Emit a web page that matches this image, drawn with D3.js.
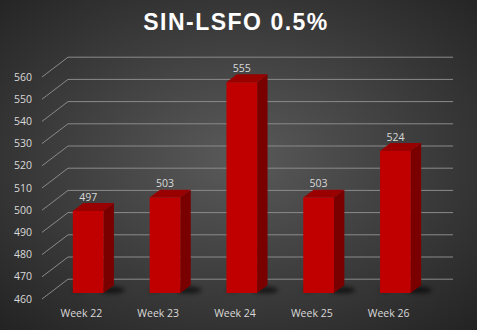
<!DOCTYPE html>
<html><head><meta charset="utf-8">
<script src="https://cdn.jsdelivr.net/npm/d3@7"></script>
<style>html,body{margin:0;padding:0;background:#333;}svg{display:block;}</style>
</head><body>
<script>
const categories = ["Week 22", "Week 23", "Week 24", "Week 25", "Week 26"];
const values = [497, 503, 555, 503, 524];
const yTicks = [460, 470, 480, 490, 500, 510, 520, 530, 540, 550, 560];
const title = "SIN-LSFO 0.5%";

const W = 477, H = 330;
const DX = 26, DY = 19.8;          // depth projection (full depth)
const T0 = 0.3, T1 = 0.7;          // bar depth range
const svg = d3.select("body").append("svg").attr("width", W).attr("height", H);
const defs = svg.append("defs");
const g = defs.append("radialGradient").attr("id", "bg").attr("cx", "50%").attr("cy", "48%").attr("r", "72%");
g.append("stop").attr("offset", "0%").attr("stop-color", "#5a5a5a");
g.append("stop").attr("offset", "100%").attr("stop-color", "#232323");
defs.append("filter").attr("id", "blur").attr("x", "-50%").attr("y", "-50%").attr("width", "200%").attr("height", "200%")
  .append("feGaussianBlur").attr("stdDeviation", 2);
svg.append("rect").attr("width", W).attr("height", H).attr("fill", "url(#bg)");

const x = d3.scaleBand().domain(categories).range([42, 426]).paddingInner(0.6).paddingOuter(0.3);
const y = d3.scaleLinear().domain([460, 560]).range([299, 77]);
const P = (xf, yf, t) => [xf + DX * t, yf - DY * t];

// gridlines
const grid = svg.append("g");
yTicks.forEach(v => {
  const a = P(42, y(v), 0), b = P(42, y(v), 1), c = P(427, y(v), 1);
  grid.append("path").attr("d", d3.line()([a, b, c])).attr("fill", "none")
    .attr("stroke", "#8a8a8a").attr("stroke-width", 1);
});
// tick labels
svg.append("g").selectAll("text").data(yTicks).join("text")
  .attr("x", 32).attr("y", d => y(d)).attr("dy", "0.35em").attr("text-anchor", "end")
  .attr("font-family", "Open Sans").attr("font-size", 10.5).attr("fill", "#d9d9d9").text(d => d);

const bw = x.bandwidth();
const bars = svg.append("g");
categories.forEach((c, i) => {
  const v = values[i];
  const xl = x(c), xr = xl + bw;
  const yt = y(v), yb = y(460);
  // shadow
  const sb = P(xr, yb, 0.5);
  bars.append("ellipse").attr("cx", sb[0] + 3).attr("cy", sb[1] + 1).attr("rx", 13).attr("ry", 3.5)
    .attr("fill", "#000").attr("opacity", 0.6).attr("filter", "url(#blur)");
  const sl = P(xl, yb, 0.5);
  bars.append("ellipse").attr("cx", sl[0]).attr("cy", sl[1] + 1).attr("rx", 6).attr("ry", 2.5)
    .attr("fill", "#000").attr("opacity", 0.35).attr("filter", "url(#blur)");
  const f1 = P(xl, yt, T0), f2 = P(xr, yt, T0), f3 = P(xr, yb, T0), f4 = P(xl, yb, T0);
  const b1 = P(xl, yt, T1), b2 = P(xr, yt, T1), b3 = P(xr, yb, T1);
  bars.append("path").attr("d", d3.line()([f2, b2, b3, f3]) + "Z").attr("fill", "#7a0000");
  bars.append("path").attr("d", d3.line()([f1, f2, b2, b1]) + "Z").attr("fill", "#990000");
  bars.append("path").attr("d", d3.line()([f1, f2, f3, f4]) + "Z").attr("fill", "#c00000");
  bars.append("text").attr("x", (f1[0] + f2[0]) / 2).attr("y", b1[1] - 2.5).attr("text-anchor", "middle")
    .attr("font-family", "Open Sans").attr("font-size", 10.5).attr("fill", "#d9d9d9").text(v);
  bars.append("text").attr("x", xl + bw / 2 + 1).attr("y", 317).attr("text-anchor", "middle")
    .attr("font-family", "Open Sans").attr("font-size", 10.5).attr("fill", "#d9d9d9").text(c);
});

svg.append("text").attr("x", 236).attr("y", 30).attr("text-anchor", "middle")
  .attr("font-family", "Liberation Sans").attr("font-weight", "bold").attr("font-size", 23)
  .attr("letter-spacing", 1.5).attr("fill", "#ffffff").text(title);
</script>
</body></html>
